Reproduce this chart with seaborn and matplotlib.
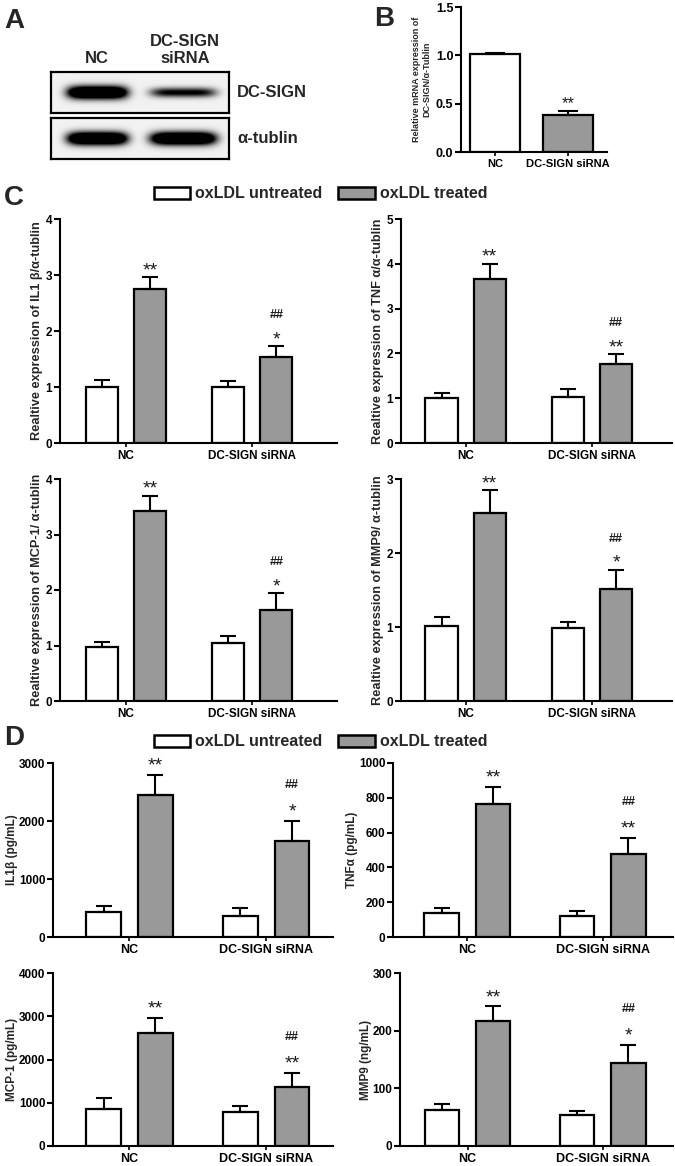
import numpy as np
import pandas as pd
import matplotlib
matplotlib.use("Agg")
import matplotlib.pyplot as plt
import seaborn as sns
from matplotlib.patches import Patch

# ---------------- data ----------------
groups = ["NC", "DC-SIGN siRNA"]
treatments = ["oxLDL untreated", "oxLDL treated"]

# Panel A (western blot band intensities, relative)
blot_lanes = ["NC", "DC-SIGN\nsiRNA"]
blot_proteins = ["DC-SIGN", "α-tublin"]
dcsign_band = [1.0, 0.55]
tublin_band = [1.0, 1.0]

# Panel B
b_values = [1.01, 0.38]
b_errors = [0.015, 0.04]
b_marks = ["", "**"]

# Panel C (relative expression)
c_il1b_untreated = [1.00, 1.00]
c_il1b_untreated_err = [0.13, 0.11]
c_il1b_treated = [2.75, 1.54]
c_il1b_treated_err = [0.21, 0.19]
c_il1b_stars = ["**", "*"]

c_tnfa_untreated = [1.00, 1.03]
c_tnfa_untreated_err = [0.11, 0.17]
c_tnfa_treated = [3.67, 1.77]
c_tnfa_treated_err = [0.33, 0.21]
c_tnfa_stars = ["**", "**"]

c_mcp1_untreated = [0.98, 1.05]
c_mcp1_untreated_err = [0.09, 0.12]
c_mcp1_treated = [3.42, 1.64]
c_mcp1_treated_err = [0.28, 0.30]
c_mcp1_stars = ["**", "*"]

c_mmp9_untreated = [1.01, 0.98]
c_mmp9_untreated_err = [0.12, 0.09]
c_mmp9_treated = [2.54, 1.52]
c_mmp9_treated_err = [0.31, 0.25]
c_mmp9_stars = ["**", "*"]

# Panel D (secreted protein)
d_il1b_untreated = [430, 370]
d_il1b_untreated_err = [110, 130]
d_il1b_treated = [2450, 1655]
d_il1b_treated_err = [345, 350]
d_il1b_stars = ["**", "*"]

d_tnfa_untreated = [138, 123]
d_tnfa_untreated_err = [29, 25]
d_tnfa_treated = [766, 479]
d_tnfa_treated_err = [96, 90]
d_tnfa_stars = ["**", "**"]

d_mcp1_untreated = [860, 780]
d_mcp1_untreated_err = [260, 145]
d_mcp1_treated = [2615, 1375]
d_mcp1_treated_err = [345, 315]
d_mcp1_stars = ["**", "**"]

d_mmp9_untreated = [63, 54]
d_mmp9_untreated_err = [9, 6]
d_mmp9_treated = [216, 144]
d_mmp9_treated_err = [26, 31]
d_mmp9_stars = ["**", "*"]

hash_marks = ["", "##"]

# ---------------- style ----------------
sns.set_style("ticks")
plt.rcParams["font.family"] = ["Liberation Sans", "DejaVu Sans"]
plt.rcParams["font.weight"] = "bold"
plt.rcParams["axes.labelweight"] = "bold"
plt.rcParams["axes.linewidth"] = 1.5
plt.rcParams["axes.edgecolor"] = "black"

W, H = 675, 1166
fig = plt.figure(figsize=(W / 100, H / 100), dpi=100)
palette = {treatments[0]: "white", treatments[1]: "#999999"}
GRAY = "#999999"


def px_axes(l, t, r, b):
    return fig.add_axes([l / W, 1 - b / H, (r - l) / W, (b - t) / H])


def style_axes(ax, xlim, ylim, yticks, ylabel, fs_tick, fs_xtick, fs_label, labelpad=2, yfmt=None):
    ax.set_xlim(*xlim)
    ax.set_ylim(*ylim)
    ax.set_yticks(yticks)
    if yfmt:
        ax.set_yticklabels([yfmt.format(v) for v in yticks])
    ax.set_xlabel("")
    ax.set_ylabel(ylabel, fontsize=fs_label, fontweight="bold", labelpad=labelpad)
    sns.despine(ax=ax)
    ax.tick_params(axis="y", length=4, width=1.5, labelsize=fs_tick, pad=1.5, colors="black")
    ax.tick_params(axis="x", length=3, width=1.2, labelsize=fs_xtick, pad=2, colors="black")
    for lab in ax.get_xticklabels() + ax.get_yticklabels():
        lab.set_fontweight("bold")


def add_err(ax, bar, e, capsize=6):
    x = bar.get_x() + bar.get_width() / 2
    h = bar.get_height()
    ax.errorbar(x, h, yerr=[[0], [e]], fmt="none", ecolor="black",
                elinewidth=1.5, capsize=capsize, capthick=1.5, zorder=3)
    return x, h + e


def grouped_panel(box, xlim, ylim, yticks, untreated, u_err, treated, t_err, stars,
                  ylabel, fs_tick, fs_xtick, fs_label, star_off, hash_off, labelpad=2):
    ax = px_axes(*box)
    df = pd.DataFrame({
        "group": groups * 2,
        "treatment": [treatments[0]] * 2 + [treatments[1]] * 2,
        "value": list(untreated) + list(treated),
    })
    sns.barplot(data=df, x="group", y="value", hue="treatment", order=groups,
                hue_order=treatments, palette=palette, saturation=1,
                edgecolor="black", linewidth=1.6, width=0.76, gap=0.33,
                errorbar=None, legend=False, ax=ax)
    for cont, errs in zip(ax.containers, [u_err, t_err]):
        for bar, e in zip(cont, errs):
            add_err(ax, bar, e)
    for bar, e, s, hs in zip(ax.containers[1], t_err, stars, hash_marks):
        x = bar.get_x() + bar.get_width() / 2
        top = bar.get_height() + e
        if s:
            ax.annotate(s, xy=(x, top), xytext=(0, star_off), textcoords="offset points",
                        ha="center", va="baseline", fontsize=14, fontweight="normal",
                        color="#1a1a1a")
        if hs:
            ax.annotate(hs, xy=(x, top), xytext=(0, hash_off), textcoords="offset points",
                        ha="center", va="baseline", fontsize=9, fontweight="bold",
                        color="#1a1a1a")
    style_axes(ax, xlim, ylim, yticks, ylabel, fs_tick, fs_xtick, fs_label, labelpad)
    return ax


# ---------------- Panel A: blot ----------------
def band_image(intensities, nx=178, ny=41):
    xs = np.linspace(0, 1, nx)
    ys = np.linspace(-1, 1, ny)
    X, Y = np.meshgrid(xs, ys)
    img = np.full_like(X, 0.03)
    centers = [0.26, 0.745]
    halfw = [0.17, 0.185]
    for c, hw, inten in zip(centers, halfw, intensities):
        wy = 0.32 * np.sqrt(inten)
        img += inten * np.exp(-np.abs((X - c) / hw) ** 5) * np.exp(-(Y / wy) ** 2)
    return np.clip(img * 1.8, 0, 1)


for (t, b), bands, name in zip([(72, 113), (118, 159)], [dcsign_band, tublin_band], blot_proteins):
    axb = px_axes(51, t, 229, b)
    axb.imshow(band_image(bands), cmap="gray_r", vmin=0, vmax=1, aspect="auto",
               interpolation="bilinear")
    axb.set_xticks([])
    axb.set_yticks([])
    for sp in axb.spines.values():
        sp.set_linewidth(1.6)
        sp.set_color("black")
    fig.text(237 / W, 1 - ((t + b) / 2) / H, name, ha="left", va="center",
             fontsize=12, fontweight="bold")

for lane, xc in zip(blot_lanes, [97, 185]):
    fig.text(xc / W, 1 - 63 / H, lane, ha="center", va="baseline", fontsize=12,
             fontweight="bold", linespacing=1.2)

# ---------------- Panel B ----------------
axB = px_axes(461, 7, 607, 152)
dfb = pd.DataFrame({"group": groups, "value": b_values})
sns.barplot(data=dfb, x="group", y="value", hue="group", order=groups, hue_order=groups,
            palette={groups[0]: "white", groups[1]: GRAY}, saturation=1,
            edgecolor="black", linewidth=1.6, width=0.68, errorbar=None, legend=False, ax=axB)
bars_B = [p for p in axB.patches]
bars_B.sort(key=lambda p: p.get_x())
for bar, e, m in zip(bars_B, b_errors, b_marks):
    x, top = add_err(axB, bar, e, capsize=7)
    if m:
        axB.annotate(m, xy=(x, top), xytext=(0, 2), textcoords="offset points",
                     ha="center", va="baseline", fontsize=12, fontweight="normal", color="#1a1a1a")
style_axes(axB, (-0.47, 1.53), (0, 1.5), [0.0, 0.5, 1.0, 1.5],
           "Relative mRNA expression of\nDC-SIGN/α-Tublin", 9, 8, 6.5, labelpad=3, yfmt="{:.1f}")

# ---------------- Panel C ----------------
grouped_panel((60, 219, 337, 443), (-0.52, 1.67), (0, 4), [0, 1, 2, 3, 4],
              c_il1b_untreated, c_il1b_untreated_err, c_il1b_treated, c_il1b_treated_err,
              c_il1b_stars, "Realtive expression of IL1 β/α-tublin", 8.5, 8.5, 9.2, 1.5, 20.5)
grouped_panel((401, 219, 672, 443), (-0.51, 1.63), (0, 5), [0, 1, 2, 3, 4, 5],
              c_tnfa_untreated, c_tnfa_untreated_err, c_tnfa_treated, c_tnfa_treated_err,
              c_tnfa_stars, "Realtive expression of TNF α/α-tublin", 8.5, 8.5, 9.2, 1.5, 20.5)
grouped_panel((60, 479, 337, 701), (-0.52, 1.67), (0, 4), [0, 1, 2, 3, 4],
              c_mcp1_untreated, c_mcp1_untreated_err, c_mcp1_treated, c_mcp1_treated_err,
              c_mcp1_stars, "Realtive expression of MCP-1/ α-tublin", 8.5, 8.5, 9.2, 1.5, 20.5)
grouped_panel((401, 479, 672, 701), (-0.51, 1.63), (0, 3), [0, 1, 2, 3],
              c_mmp9_untreated, c_mmp9_untreated_err, c_mmp9_treated, c_mmp9_treated_err,
              c_mmp9_stars, "Realtive expression of MMP9/ α-tublin", 8.5, 8.5, 9.2, 1.5, 20.5)

# ---------------- Panel D ----------------
grouped_panel((53, 763, 333, 937), (-0.56, 1.49), (0, 3000), [0, 1000, 2000, 3000],
              d_il1b_untreated, d_il1b_untreated_err, d_il1b_treated, d_il1b_treated_err,
              d_il1b_stars, "IL1β (pg/mL)", 8.5, 9, 8.5, 3, 23.5, labelpad=0.5)
grouped_panel((393, 763, 673, 937), (-0.55, 1.52), (0, 1000), [0, 200, 400, 600, 800, 1000],
              d_tnfa_untreated, d_tnfa_untreated_err, d_tnfa_treated, d_tnfa_treated_err,
              d_tnfa_stars, "TNFα (pg/mL)", 8.5, 9, 8.5, 3, 23.5, labelpad=0.5)
grouped_panel((53, 973, 333, 1146), (-0.56, 1.49), (0, 4000), [0, 1000, 2000, 3000, 4000],
              d_mcp1_untreated, d_mcp1_untreated_err, d_mcp1_treated, d_mcp1_treated_err,
              d_mcp1_stars, "MCP-1 (pg/mL)", 8.5, 9, 8.5, 3, 23.5, labelpad=0.5)
grouped_panel((400, 973, 673, 1146), (-0.50, 1.52), (0, 300), [0, 100, 200, 300],
              d_mmp9_untreated, d_mmp9_untreated_err, d_mmp9_treated, d_mmp9_treated_err,
              d_mmp9_stars, "MMP9 (ng/mL)", 8.5, 9, 8.5, 3, 23.5, labelpad=0.5)

# ---------------- legends ----------------
handles = [Patch(facecolor="white", edgecolor="black", linewidth=1.8),
           Patch(facecolor=GRAY, edgecolor="black", linewidth=1.8)]
for cy in [194, 742]:
    fig.legend(handles, treatments, loc="center", bbox_to_anchor=(320.5 / W, 1 - cy / H),
               ncol=2, frameon=False, borderpad=0, borderaxespad=0,
               handlelength=2.3, handleheight=0.8, handletextpad=0.3, columnspacing=1.0,
               prop={"size": 11.5, "weight": "bold"})

# ---------------- panel letters ----------------
for letter, (x, y) in zip("ABCD", [(4, 28), (374, 26), (4, 205), (4, 745)]):
    fig.text(x / W, 1 - y / H, letter, ha="left", va="baseline", fontsize=20, fontweight="bold")

fig.savefig("out.png", dpi=100, facecolor="white")
